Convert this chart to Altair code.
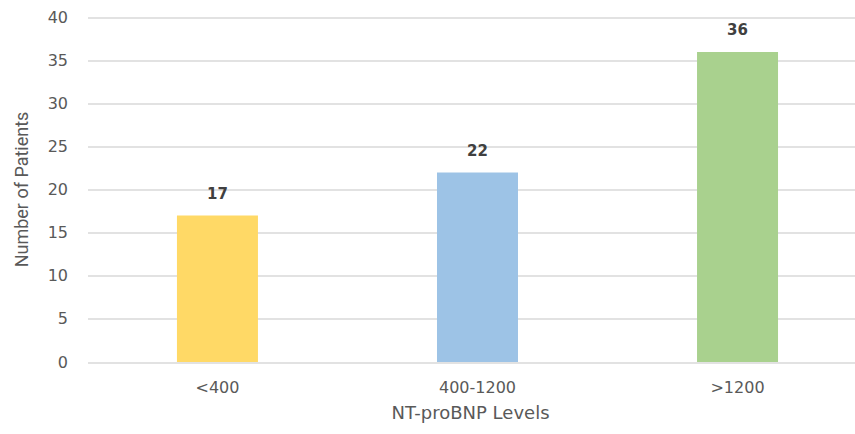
import altair as alt
import pandas as pd

categories = ["<400", "400-1200", ">1200"]
patients = [17, 22, 36]
colors = ["#FFD966", "#9DC3E6", "#A9D18E"]

df = pd.DataFrame({"level": categories, "n": patients, "color": colors})

FONT = "DejaVu Sans, Open Sans, sans-serif"
TFONT = "Liberation Sans Narrow, Roboto, sans-serif"

x = alt.X("level:N", sort=categories,
          scale=alt.Scale(paddingInner=0.6885, paddingOuter=0.32, align=0.5375),
          axis=alt.Axis(title="NT-proBNP Levels", labelAngle=0, labelFont=FONT,
                        labelFontSize=16, labelColor="#595959", labelPadding=17,
                        ticks=False, domain=False, titleFont=FONT, titleFontSize=18,
                        titleFontWeight="normal", titleColor="#595959",
                        titleX=382.5, titleY=51, titleBaseline="middle"))
y = alt.Y("n:Q", scale=alt.Scale(domain=[0, 40], nice=False),
          axis=alt.Axis(title="Number of Patients", values=list(range(0, 41, 5)),
                        labelFont=FONT, labelFontSize=16, labelColor="#595959",
                        labelPadding=20, ticks=False, domain=False,
                        gridColor="#D9D9D9", gridWidth=1.5,
                        titleFont=TFONT, titleFontSize=18, titleFontWeight="normal",
                        titleColor="#595959", titleX=-65.5, titleY=171.5,
                        titleAngle=-90, titleBaseline="middle", titleAlign="center"))

bars = alt.Chart(df).mark_bar().encode(
    x=x, y=y, color=alt.Color("color:N", scale=None)
)
labels = alt.Chart(df).mark_text(dy=-22, fontWeight="bold", fontSize=15,
                                 font=FONT, color="#404040").encode(
    x=alt.X("level:N", sort=categories), y="n:Q", text="n:Q"
)

chart = (bars + labels).properties(
    width=767.5, height=344.5,
    padding={"left": 87.5, "top": 17.5, "right": 0, "bottom": 72},
    autosize=alt.AutoSizeParams(type="none"),
    background="white"
).configure_view(stroke=None)

chart.save("out.html", embed_options={"renderer": "svg", "actions": False})
